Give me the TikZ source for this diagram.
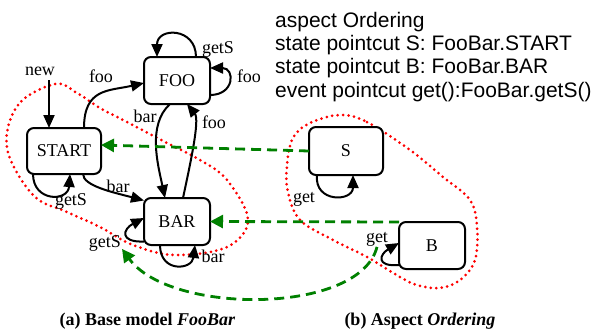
\documentclass[tikz,border=0pt]{standalone}
\usepackage{fontspec}
\setmainfont{Liberation Serif}
\newfontfamily\codefont{Liberation Sans}
\usetikzlibrary{arrows.meta,calc}
\definecolor{pcGreen}{RGB}{0,128,0}
\definecolor{regionRed}{RGB}{255,0,0}

\begin{document}
\begin{tikzpicture}[
    x=1pt,y=1pt,
    state/.style={draw,line width=2pt,rounded corners=7pt,fill=white,inner sep=0pt,outer sep=0pt,font=\fontsize{18}{20}\selectfont},
    lbl/.style={inner sep=0pt,anchor=base,font=\fontsize{18}{20}\selectfont},
    edge/.style={line width=2pt,-{Triangle[length=13pt,width=11pt]}},
    pc/.style={pcGreen,line width=2.8pt,dash pattern=on 10pt off 6pt,-{Triangle[length=13pt,width=13pt]}},
    region/.style={regionRed,line width=3pt,dash pattern=on 0pt off 5.5pt,line cap=round}
  ]
  \useasboundingbox (0,0) rectangle (598,-330);

  % regions joined by the aspect
  \draw[region] plot[smooth cycle,tension=0.6] coordinates {
    (55,-84) (18,-105) (7,-148) (33,-195) (67,-212) (100,-227) (133,-245) (175,-255)
    (227,-247) (248,-220) (227,-180) (200,-160) (167,-143) (127,-122) (100,-108) (77,-93)};
  \draw[region] plot[smooth cycle,tension=0.6] coordinates {
    (340,-115) (367,-122) (410,-150) (443,-177) (470,-200) (477,-227) (475,-260) (460,-280)
    (440,-288) (417,-285) (400,-277) (367,-257) (333,-240) (300,-220) (288,-192) (287,-165)
    (293,-138) (310,-123)};

  % base model
  \node[state,minimum width=74pt,minimum height=46pt] (start) at (64,-151) {START};
  \node[state,minimum width=66pt,minimum height=47pt] (foo) at (177,-80.5) {FOO};
  \node[state,minimum width=66pt,minimum height=47pt] (bar) at (177,-221.5) {BAR};

  % aspect
  \node[state,minimum width=74pt,minimum height=48pt] (s) at (346,-151) {S};
  \node[state,minimum width=66pt,minimum height=47pt] (b) at (432,-245.5) {B};

  \coordinate (init) at (49,-80);
  \node[lbl] at (40,-75) {new};
  \draw[edge] (init) -- (init |- start.north);

  \draw[edge] ([xshift=20]start.north) .. controls +(0,40) and +(-35,-8) .. ([yshift=-2.5]foo.west)
    node[lbl] at (101,-82) {foo};
  \draw[edge] ([xshift=19]foo.north) .. controls +(0,30) and +(0,30) .. ([xshift=-20]foo.north)
    node[lbl] at (218,-53) {getS};
  \draw[edge] ([yshift=-14.5]foo.east) .. controls +(25,0) and +(25,0) .. ([yshift=12.5]foo.east)
    node[lbl] at (249,-82) {foo};
  \draw[edge] ([xshift=-7]foo.south) .. controls +(-23,-21) and +(-7,33) .. ([xshift=-12]bar.north)
    node[lbl] at (145,-122) {bar};
  \draw[edge] ([xshift=6]bar.north) .. controls +(7,33) and +(13,-16) .. ([xshift=10]foo.south)
    node[lbl] at (214,-128) {foo};
  \draw[edge] ([xshift=19]start.south) .. controls +(0,-12) and +(-30,8) .. ([yshift=21]bar.west)
    node[lbl] at (118,-192) {bar};
  \draw[edge] ([xshift=-31]start.south) .. controls +(0,-28) and +(-2,-28) .. ([xshift=6]start.south)
    node[lbl] at (71,-205) {getS};
  \draw[edge] ([yshift=-20]bar.west) .. controls +(-25,-1) and +(-21,-11) .. ([yshift=3.5]bar.west)
    node[lbl] (bargets) at (105,-247) {getS};
  \draw[edge] ([xshift=-17]bar.south) .. controls +(0,-28) and +(-3,-25) .. ([xshift=18]bar.south)
    node[lbl] at (213,-262) {bar};

  \draw[edge] ([xshift=-29]s.south) .. controls +(-3,-28) and +(0,-27) .. ([xshift=7]s.south)
    node[lbl] at (304,-202) {get};
  \draw[edge] ([yshift=-19.5]b.west) .. controls +(-24,-2) and +(-19,-11) .. ([yshift=2.5]b.west)
    node[lbl] (bget) at (377,-242) {get};

  % pointcut bindings
  \draw[pc] (s.west) -- ([yshift=6]start.east);
  \draw[pc] (b.north west) -- (bar.east);
  \draw[pc] (bget.south) .. controls (360,-315) and (170,-315) .. ([yshift=3]bargets.south east);

  \foreach \y/\txt in {-27/{aspect Ordering},-50/{state pointcut S: FooBar.START},
      -73/{state pointcut B: FooBar.BAR},-97/{event pointcut get():FooBar.getS()}}{
    \node[inner sep=0pt,anchor=base west,font=\codefont\fontsize{21}{23}\selectfont] at (275,\y) {\txt};
  }

  \node[lbl,font=\fontsize{18}{20}\selectfont\bfseries] (capa) at (147.5,-325) {(a) Base model \textit{FooBar}};
  \node[lbl,font=\fontsize{18}{20}\selectfont\bfseries] (capb) at (420,-325) {(b) Aspect \textit{Ordering}};
\end{tikzpicture}
\end{document}
